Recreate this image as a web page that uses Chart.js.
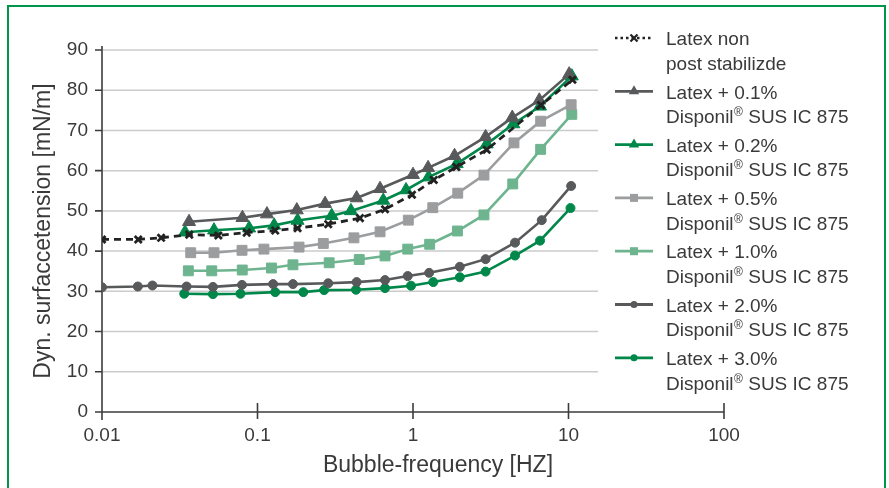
<!DOCTYPE html>
<html>
<head>
<meta charset="utf-8">
<script src="https://cdn.jsdelivr.net/npm/chart.js@4"></script>
<style>
  html, body { margin: 0; padding: 0; background: #fff; }
  #wrap { width: 889px; height: 488px; position: relative; }
</style>
</head>
<body>
<div id="wrap"><canvas id="chart" width="889" height="488"></canvas></div>
<script>
// x values are bubble frequencies in Hz, y values surface tension in mN/m
const freqNon = [0.01, 0.0171, 0.024, 0.0364, 0.056, 0.0852, 0.130, 0.181, 0.285, 0.456, 0.661, 0.985, 1.36, 1.90, 2.98, 6.66, 10.6];
const valsNon = [42.9, 42.9, 43.3, 44.1, 43.9, 44.6, 45.1, 45.7, 46.7, 48.2, 50.4, 54.0, 57.7, 60.9, 65.2, 76.3, 82.6];

const freq01 = [0.0363, 0.080, 0.115, 0.179, 0.272, 0.434, 0.614, 1.0, 1.25, 1.85, 2.93, 4.35, 6.49, 10.1];
const vals01 = [47.3, 48.3, 49.2, 50.2, 51.8, 53.2, 55.5, 59.0, 60.7, 63.7, 68.4, 73.2, 77.5, 84.0];

const freq02 = [0.0342, 0.0525, 0.0884, 0.128, 0.181, 0.300, 0.399, 0.644, 0.902, 1.26, 1.91, 2.98, 4.42, 6.56, 10.5];
const vals02 = [44.7, 45.2, 45.7, 46.4, 47.6, 48.8, 50.0, 52.6, 55.2, 58.4, 61.7, 66.6, 71.6, 76.0, 83.5];

const freq05 = [0.0372, 0.0525, 0.0795, 0.110, 0.185, 0.265, 0.417, 0.614, 0.933, 1.34, 1.94, 2.86, 4.46, 6.62, 10.4];
const vals05 = [39.6, 39.6, 40.2, 40.5, 41.0, 41.9, 43.3, 44.8, 47.7, 50.8, 54.4, 58.9, 66.9, 72.3, 76.4];

const freq10 = [0.0359, 0.0508, 0.0798, 0.123, 0.169, 0.289, 0.451, 0.661, 0.925, 1.28, 1.93, 2.86, 4.38, 6.62, 10.5];
const vals10 = [35.1, 35.1, 35.3, 35.8, 36.6, 37.1, 37.9, 38.8, 40.5, 41.7, 45.0, 49.0, 56.7, 65.3, 74.0];

const freq20 = [0.01, 0.0170, 0.0211, 0.0350, 0.0517, 0.0795, 0.126, 0.169, 0.285, 0.434, 0.661, 0.925, 1.27, 2.0, 2.93, 4.53, 6.73, 10.4];
const vals20 = [31.0, 31.2, 31.45, 31.2, 31.1, 31.6, 31.8, 31.8, 32.0, 32.3, 32.8, 33.8, 34.6, 36.1, 38.0, 42.1, 47.7, 56.2];

const freq30 = [0.0338, 0.0517, 0.0777, 0.130, 0.197, 0.268, 0.430, 0.661, 0.971, 1.35, 2.0, 2.93, 4.53, 6.56, 10.3];
const vals30 = [29.4, 29.3, 29.4, 29.8, 29.8, 30.3, 30.4, 30.8, 31.4, 32.3, 33.5, 34.9, 38.9, 42.6, 50.7];

const seriesNames = [
  ['Latex non', 'post stabilizde'],
  ['Latex + 0.1%', 'Disponil® SUS IC 875'],
  ['Latex + 0.2%', 'Disponil® SUS IC 875'],
  ['Latex + 0.5%', 'Disponil® SUS IC 875'],
  ['Latex + 1.0%', 'Disponil® SUS IC 875'],
  ['Latex + 2.0%', 'Disponil® SUS IC 875'],
  ['Latex + 3.0%', 'Disponil® SUS IC 875']
];

const xTicks = [0.01, 0.1, 1, 10, 100];
const xTickLabels = ['0.01', '0.1', '1', '10', '100'];
const yTicks = [0, 10, 20, 30, 40, 50, 60, 70, 80, 90];

const FONT = '"Liberation Sans", Arial, sans-serif';
const TEXT = '#3a3a3a';
const DARK = '#58595b';
const GREEN = '#00874a';
const GREY = '#9c9d9f';
const LIGHTGREEN = '#6db48f';
const BLACK = '#222222';

const pts = (xs, ys) => xs.map((v, i) => ({ x: v, y: ys[i] }));

function series(i, xs, ys, color, style, radius, dash) {
  return {
    label: seriesNames[i].join(' '),
    data: pts(xs, ys),
    showLine: true,
    borderColor: color,
    backgroundColor: color,
    borderWidth: style === 'crossRot' ? 2.8 : 2.6,
    borderDash: dash || [],
    pointStyle: style,
    pointRadius: radius,
    pointBorderWidth: style === 'crossRot' ? 2.8 : 1,
    pointBorderColor: color,
    pointBackgroundColor: color,
    tension: 0
  };
}

const datasets = [
  series(0, freqNon, valsNon, BLACK, 'crossRot', 5, [7, 5]),
  series(1, freq01, vals01, DARK, 'triangle', 7.5),
  series(2, freq02, vals02, GREEN, 'triangle', 7.5),
  series(3, freq05, vals05, GREY, 'rect', 7),
  series(4, freq10, vals10, LIGHTGREEN, 'rect', 7),
  series(5, freq20, vals20, DARK, 'circle', 4.5),
  series(6, freq30, vals30, GREEN, 'circle', 4.5)
];

function drawMarker(ctx, style, x, y, r, color) {
  ctx.save();
  ctx.fillStyle = color;
  ctx.strokeStyle = color;
  ctx.setLineDash([]);
  ctx.beginPath();
  if (style === 'triangle') {
    ctx.moveTo(x, y - r);
    ctx.lineTo(x + r * 0.866, y + r / 2);
    ctx.lineTo(x - r * 0.866, y + r / 2);
    ctx.closePath();
    ctx.fill();
  } else if (style === 'rect') {
    ctx.fillRect(x - r, y - r, 2 * r, 2 * r);
  } else if (style === 'circle') {
    ctx.arc(x, y, r, 0, Math.PI * 2);
    ctx.fill();
  } else {
    ctx.lineWidth = 2.2;
    ctx.moveTo(x - r, y - r); ctx.lineTo(x + r, y + r);
    ctx.moveTo(x + r, y - r); ctx.lineTo(x - r, y + r);
    ctx.stroke();
  }
  ctx.restore();
}

const deco = {
  id: 'deco',
  beforeDatasetsDraw(chart) {
    const { ctx, scales: { x, y } } = chart;
    ctx.save();
    // horizontal grid lines stop before the legend
    ctx.strokeStyle = '#cbcbcb';
    ctx.lineWidth = 1.5;
    yTicks.forEach(v => {
      if (v === 0) return;
      const py = y.getPixelForValue(v);
      ctx.beginPath(); ctx.moveTo(x.left, py); ctx.lineTo(598, py); ctx.stroke();
    });
    // axes and tick marks
    ctx.strokeStyle = '#3c3c3c';
    ctx.lineWidth = 1.6;
    ctx.beginPath();
    ctx.moveTo(x.left, y.top - 4); ctx.lineTo(x.left, y.bottom + 8);
    ctx.moveTo(x.left - 7, y.bottom); ctx.lineTo(x.right, y.bottom);
    yTicks.forEach(v => {
      const py = y.getPixelForValue(v);
      ctx.moveTo(x.left - 7, py); ctx.lineTo(x.left, py);
    });
    xTicks.forEach(v => {
      const px = x.getPixelForValue(v);
      ctx.moveTo(px, y.bottom - 9); ctx.lineTo(px, y.bottom + 7);
    });
    ctx.stroke();
    ctx.restore();
  },
  afterDraw(chart) {
    const { ctx } = chart;
    ctx.save();
    // frame
    ctx.strokeStyle = '#00964a';
    ctx.lineWidth = 2;
    ctx.strokeRect(8, 6, 877, 500);

    // x axis title
    ctx.fillStyle = TEXT;
    ctx.font = '23px ' + FONT;
    ctx.textAlign = 'center';
    ctx.textBaseline = 'middle';
    ctx.fillText('Bubble-frequency [HZ]', 438, 466);

    // legend
    ctx.textAlign = 'left';
    chart.data.datasets.forEach((ds, i) => {
      const cy = 38 + 53.3 * i;
      ctx.save();
      ctx.strokeStyle = ds.borderColor;
      ctx.lineWidth = 2.8;
      if (ds.pointStyle === 'crossRot') { ctx.setLineDash([2.5, 3]); ctx.lineWidth = 2.6; }
      ctx.beginPath(); ctx.moveTo(615, cy); ctx.lineTo(653, cy); ctx.stroke();
      ctx.restore();
      const mr = ds.pointStyle === 'triangle' ? 6 : ds.pointStyle === 'rect' ? 4 : 3.5;
      drawMarker(ctx, ds.pointStyle, 634, cy, mr, ds.borderColor);

      ctx.fillStyle = TEXT;
      seriesNames[i].forEach((line, j) => {
        const ty = cy + 2 + j * 24.5;
        const parts = line.split('®');
        let tx = 666;
        ctx.font = '19px ' + FONT;
        ctx.fillText(parts[0], tx, ty);
        if (parts.length > 1) {
          tx += ctx.measureText(parts[0]).width + 0.5;
          ctx.font = '12px ' + FONT;
          ctx.fillText('®', tx, ty - 5);
          tx += ctx.measureText('®').width;
          ctx.font = '19px ' + FONT;
          ctx.fillText(parts[1], tx, ty);
        }
      });
    });
    ctx.restore();
  }
};

new Chart(document.getElementById('chart').getContext('2d'), {
  type: 'scatter',
  data: { datasets },
  options: {
    responsive: false,
    animation: false,
    devicePixelRatio: 1,
    layout: { padding: { top: 50, right: 165, left: 0, bottom: 0 } },
    plugins: { legend: { display: false }, tooltip: { enabled: false } },
    scales: {
      x: {
        type: 'logarithmic',
        min: 0.01,
        max: 100,
        afterBuildTicks: s => { s.ticks = xTicks.map(v => ({ value: v })); },
        afterFit: s => { s.height = 76; },
        grid: { display: false, drawTicks: false },
        border: { display: false },
        ticks: {
          autoSkip: false,
          maxRotation: 0,
          padding: 12,
          color: TEXT,
          font: { size: 19, family: FONT },
          callback: (v, i) => xTickLabels[i]
        }
      },
      y: {
        min: 0,
        max: 90,
        afterBuildTicks: s => { s.ticks = yTicks.map(v => ({ value: v })); },
        afterFit: s => { s.width = 102; },
        grid: { display: false, drawTicks: false },
        border: { display: false },
        ticks: {
          padding: 14,
          color: TEXT,
          font: { size: 19, family: FONT }
        },
        title: {
          display: true,
          text: 'Dyn. surfaccetension [mN/m]',
          color: TEXT,
          font: { size: 23, family: FONT },
          padding: { top: 30, bottom: 0 }
        }
      }
    }
  },
  plugins: [deco]
});
</script>
</body>
</html>
